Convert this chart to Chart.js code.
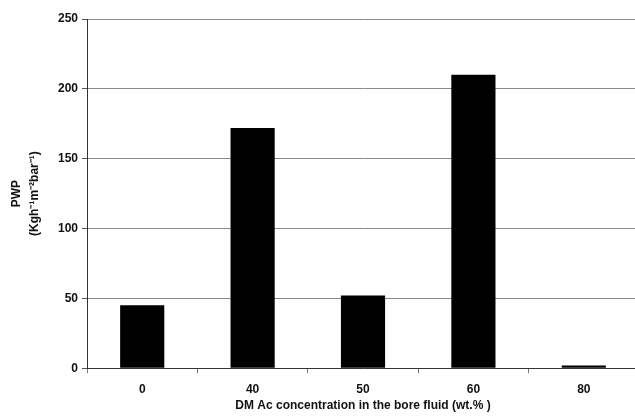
<!DOCTYPE html>
<html>
<head>
<meta charset="utf-8">
<script src="https://cdn.jsdelivr.net/npm/chart.js@4.4.1/dist/chart.umd.min.js"></script>
<style>
  html, body { margin: 0; padding: 0; overflow: hidden; background: #fff; }
  #wrap { position: absolute; left: 0; top: 0; width: 640px; height: 418px; }
</style>
</head>
<body>
<div id="wrap"><canvas id="c" width="640" height="418"></canvas></div>
<script>
const categories = ['0', '40', '50', '60', '80'];
const pwpValues = [45, 172, 52, 210, 2];
const yTicks = [0, 50, 100, 150, 200, 250];

const fontFamily = '"Liberation Sans", Arial, sans-serif';

new Chart(document.getElementById('c'), {
  type: 'bar',
  data: {
    labels: categories,
    datasets: [{
      data: pwpValues,
      backgroundColor: '#000000',
      borderWidth: 0,
      barPercentage: 0.4,
      categoryPercentage: 1.0
    }]
  },
  options: {
    responsive: false,
    animation: false,
    devicePixelRatio: 1,
    layout: { padding: { top: 19, right: 1, left: 8, bottom: 5 } },
    plugins: {
      legend: { display: false },
      tooltip: { enabled: false }
    },
    scales: {
      x: {
        grid: {
          offset: true,
          drawOnChartArea: false,
          drawTicks: true,
          tickLength: 5,
          color: '#777777'
        },
        border: { display: true, color: '#333333', width: 1 },
        ticks: {
          color: '#111111',
          padding: 9,
          font: { family: fontFamily, size: 12, weight: 'bold' }
        },
        title: {
          display: true,
          text: 'DM Ac concentration in the bore fluid (wt.% )',
          color: '#111111',
          padding: { top: -7, bottom: 0 },
          font: { family: fontFamily, size: 12, weight: 'bold' }
        }
      },
      y: {
        min: 0,
        max: 250,
        afterBuildTicks: (axis) => { axis.ticks = yTicks.map(v => ({ value: v })); },
        grid: {
          color: '#8a8a8a',
          lineWidth: 1,
          drawTicks: true,
          tickLength: 5,
          tickColor: '#555555'
        },
        border: { display: true, color: '#333333', width: 1 },
        ticks: {
          color: '#111111',
          padding: 4,
          font: { family: fontFamily, size: 12, weight: 'bold' }
        },
        title: {
          display: true,
          text: ['PWP', '(Kgh\u207B\u00B9m\u207B\u00B2bar\u207B\u00B9)'],
          color: '#111111',
          padding: { top: 0, bottom: 10 },
          font: { family: fontFamily, size: 12, weight: 'bold', lineHeight: 1.5 }
        }
      }
    }
  }
});
</script>
</body>
</html>
